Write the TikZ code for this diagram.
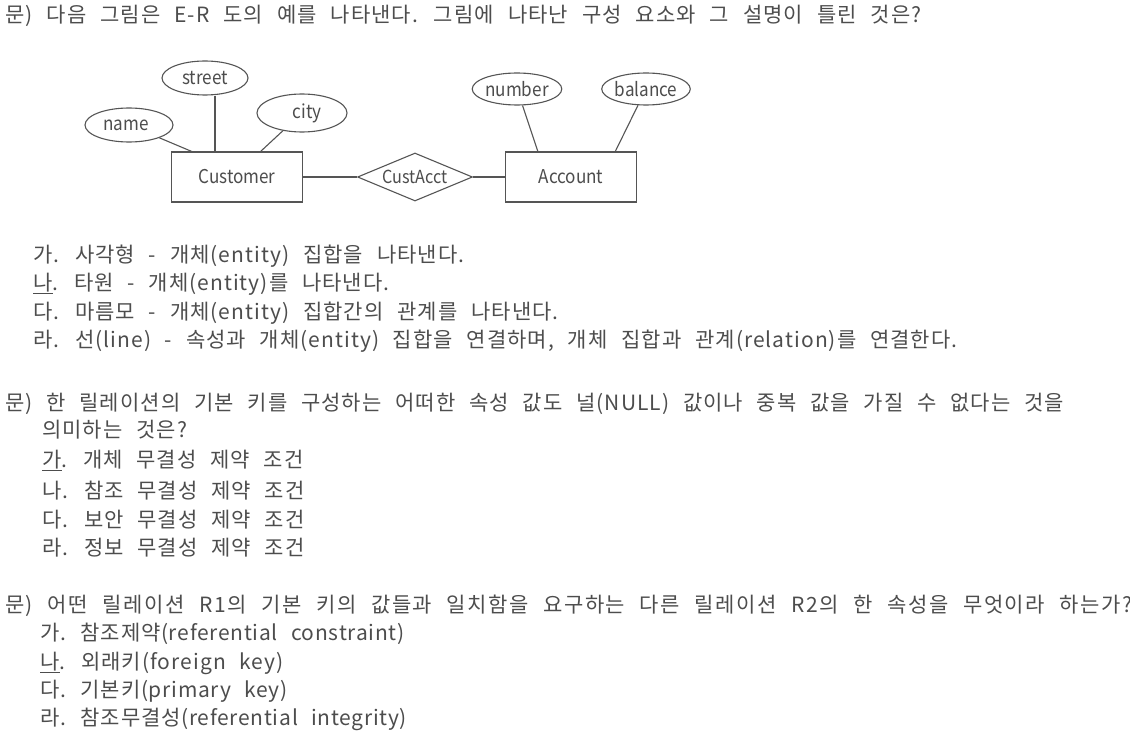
\documentclass[tikz,border=0pt]{standalone}
\usepackage{fontspec}
\setmainfont{Noto Sans CJK KR}[WordSpace=2.4,LetterSpace=5]
\newfontfamily\erfont[FakeStretch=0.9]{Noto Sans CJK KR}
\usetikzlibrary{shapes.geometric}
\definecolor{ink}{HTML}{4D4D4D}
\definecolor{edge}{HTML}{555555}
\begin{document}
\begin{tikzpicture}[x=1pt,y=-1pt,
  txt/.style={anchor=base west,inner sep=0pt,text=ink,font=\fontsize{21}{24}\selectfont},
  tight/.style={font=\fontsize{21}{24}\selectfont\addfontfeature{LetterSpace=3.5}},
  attr/.style={ellipse,draw=edge,line width=1.1pt,inner sep=0pt,text=ink,font=\erfont\fontsize{19}{20}\selectfont},
  entity/.style={rectangle,draw=edge,line width=1.1pt,minimum width=131pt,minimum height=50pt,inner sep=0pt,text=ink,font=\erfont\fontsize{19}{20}\selectfont},
  rel/.style={diamond,draw=edge,line width=1.1pt,minimum width=115pt,minimum height=48pt,inner sep=0pt,aspect=2.4,text=ink,font=\erfont\fontsize{18}{20}\selectfont},
  link/.style={draw=edge,line width=1.1pt}]
\fill[white] (0,0) rectangle (1130,741);
\useasboundingbox (0,0) rectangle (1130,741);

% question 1
\node[txt] (q1) at (5,23) {\addfontfeature{LetterSpace=5.2}문) 다음 그림은 E-R 도의 예를 나타낸다. 그림에 나타난 구성 요소와 그 설명이 틀린 것은?};

% E-R diagram
\node[entity] (cust) at (237,177) {Customer};
\node[entity] (acct) at (571,177) {Account};
\node[rel] (ca) at (415,177) {CustAcct};
\node[attr,minimum width=86pt,minimum height=34pt] (street) at (205,78) {street};
\node[attr,minimum width=88pt,minimum height=34pt] (name) at (129,125) {name\hspace*{6pt}};
\node[attr,minimum width=90pt,minimum height=38pt] (city) at (302,113) {\hspace*{10pt}city};
\node[attr,minimum width=89pt,minimum height=32pt] (number) at (517,89) {number};
\node[attr,minimum width=87pt,minimum height=32pt] (balance) at (646,89) {balance};
\coordinate (cA) at (193,152);
\coordinate (cB) at (215,152);
\coordinate (cC) at (260,152);
\coordinate (aA) at (538,152);
\coordinate (aB) at (615,152);
\draw[link] (name) -- (cA);
\draw[link] (cB |- street.south) -- (cB);
\draw[link] (city) -- (cC);
\draw[link] (number) -- (aA);
\draw[link] (balance) -- (aB);
\draw[link] (cust) -- (ca);
\draw[link] (ca) -- (acct);

% options 1
\node[txt] (o1a) at (33,262) {가. 사각형 - 개체(entity) 집합을 나타낸다.};
\node[txt] (o1b) at (33,290) {\underline{나}. 타원 - 개체(entity)를 나타낸다.};
\node[txt] (o1c) at (33,319) {다. 마름모 - 개체(entity) 집합간의 관계를 나타낸다.};
\node[txt] (o1d) at (33,347) {라. 선(line) - 속성과 개체(entity) 집합을 연결하며, 개체 집합과 관계(relation)를 연결한다.};

% question 2
\node[txt] (q2a) at (5,410) {문) 한 릴레이션의 기본 키를 구성하는 어떠한 속성 값도 널(NULL) 값이나 중복 값을 가질 수 없다는 것을};
\node[txt] (q2b) at (42,437) {의미하는 것은?};
\node[txt] (o2a) at (42,467) {\underline{가}. 개체 무결성 제약 조건};
\node[txt] (o2b) at (42,498) {나. 참조 무결성 제약 조건};
\node[txt] (o2c) at (42,527) {다. 보안 무결성 제약 조건};
\node[txt] (o2d) at (42,555) {라. 정보 무결성 제약 조건};

% question 3
\node[txt] (q3) at (5,612) {\addfontfeature{LetterSpace=7}문) 어떤 릴레이션 R1의 기본 키의 값들과 일치함을 요구하는 다른 릴레이션 R2의 한 속성을 무엇이라 하는가?};
\node[txt,tight] (o3a) at (40,640) {가. 참조제약(referential constraint)};
\node[txt] (o3b) at (40,669) {\underline{나}. 외래키(foreign key)};
\node[txt,tight] (o3c) at (40,697) {다. 기본키(primary key)};
\node[txt,tight] (o3d) at (40,725) {라. 참조무결성(referential integrity)};
\end{tikzpicture}
\end{document}
